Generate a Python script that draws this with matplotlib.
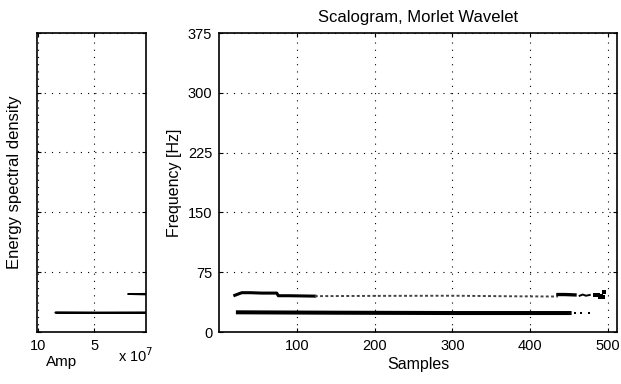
import matplotlib

matplotlib.use("Agg")
import matplotlib.pyplot as plt  # noqa: E402

plt.rcParams["font.family"] = ["Liberation Sans", "DejaVu Sans"]
plt.rcParams["font.size"] = 10

# energy spectral density (left panel): amplitude vs frequency
esd_freq = [0, 23.4, 23.6, 24.0, 24.3, 46.6, 46.9, 47.3, 47.6, 375]
esd_amp = [0, 0, 4.5e7, 8.44e7, 0, 0, 1.0e7, 2.04e7, 0, 0]

# scalogram ridges (right panel): samples vs frequency
upper_thick_s = [20, 24, 29, 40, 55, 74, 76, 90, 110, 123]
upper_thick_f = [46.0, 47.5, 49.3, 49.3, 48.8, 48.8, 45.5, 45.5, 45.2, 45.0]
upper_faint_s = [123, 200, 300, 380, 436]
upper_faint_f = [45.0, 45.3, 45.5, 44.8, 44.5]
upper_tail_s = [436, 445, 458]
upper_tail_f = [47.0, 47.0, 46.5]
wiggle_s = [464, 468, 472, 477]
wiggle_f = [45.5, 47.0, 45.5, 46.5]
blob_s = [484, 488, 492, 495, 490, 494]
blob_f = [46.0, 47.0, 45.5, 50.0, 43.5, 44.0]
lower_s = [24, 150, 300, 451]
lower_f = [24.7, 24.2, 23.8, 23.8]
lower_dots_s = [458, 466, 476]
lower_dots_f = [24.0, 24.0, 24.2]

freq_ticks = [0, 75, 150, 225, 300, 375]
sample_ticks = [100, 200, 300, 400, 500]
amp_ticks = [10e7, 5e7]
amp_labels = ["10", "5"]

GRID = dict(color="black", linestyle=(0, (1, 5.5)), linewidth=0.8)


def _style(ax):
    ax.tick_params(direction="in", top=True, right=True, length=3, width=0.8,
                   labelsize=10.5, pad=5)
    for s in ax.spines.values():
        s.set_linewidth(1.2)
    ax.grid(True, **GRID)


fig = plt.figure(figsize=(6.21, 3.84), dpi=100)

ax1 = fig.add_axes([0.0596, 0.1362, 0.1747, 0.778])
ax1.plot(esd_amp, esd_freq, color="black", linewidth=1.3)
ax1.set_xlim(10.05e7, 0.5e7)
ax1.set_ylim(0, 375)
ax1.set_xticks(amp_ticks)
ax1.set_xticklabels(amp_labels)
ax1.set_yticks(freq_ticks)
ax1.set_yticklabels([])
ax1.set_ylabel("Energy spectral density", fontsize=12, labelpad=6)
_style(ax1)
fig.text(62 / 621, 1 - 362 / 384, "Amp", ha="center", va="center", fontsize=11)
fig.text(136 / 621, 1 - 356 / 384, r"x 10$^7$", ha="center", va="center", fontsize=10.5)

ax2 = fig.add_axes([0.3531, 0.1354, 0.6404, 0.7786])
ax2.plot(upper_thick_s, upper_thick_f, color="black", linewidth=2.2)
ax2.plot(upper_faint_s, upper_faint_f, color="#444444", linewidth=1.4,
         linestyle=(0, (1.5, 1.2)))
ax2.plot(upper_tail_s, upper_tail_f, color="black", linewidth=2.4)
ax2.plot(wiggle_s, wiggle_f, color="black", linewidth=1.4)
ax2.scatter(blob_s, blob_f, color="black", s=5, marker="s", linewidths=0)
ax2.plot(lower_s, lower_f, color="black", linewidth=2.9)
ax2.scatter(lower_dots_s, lower_dots_f, color="black", s=4, marker="s", linewidths=0)
ax2.set_xlim(0, 512)
ax2.set_ylim(0, 375)
ax2.set_xticks(sample_ticks)
ax2.set_yticks(freq_ticks)
ax2.set_xlabel("Samples", fontsize=11.5, labelpad=3)
ax2.set_ylabel("Frequency [Hz]", fontsize=11.5, labelpad=4)
ax2.set_title("Scalogram, Morlet Wavelet", fontsize=12, pad=8)
_style(ax2)

fig.savefig("out.png", dpi=100)
